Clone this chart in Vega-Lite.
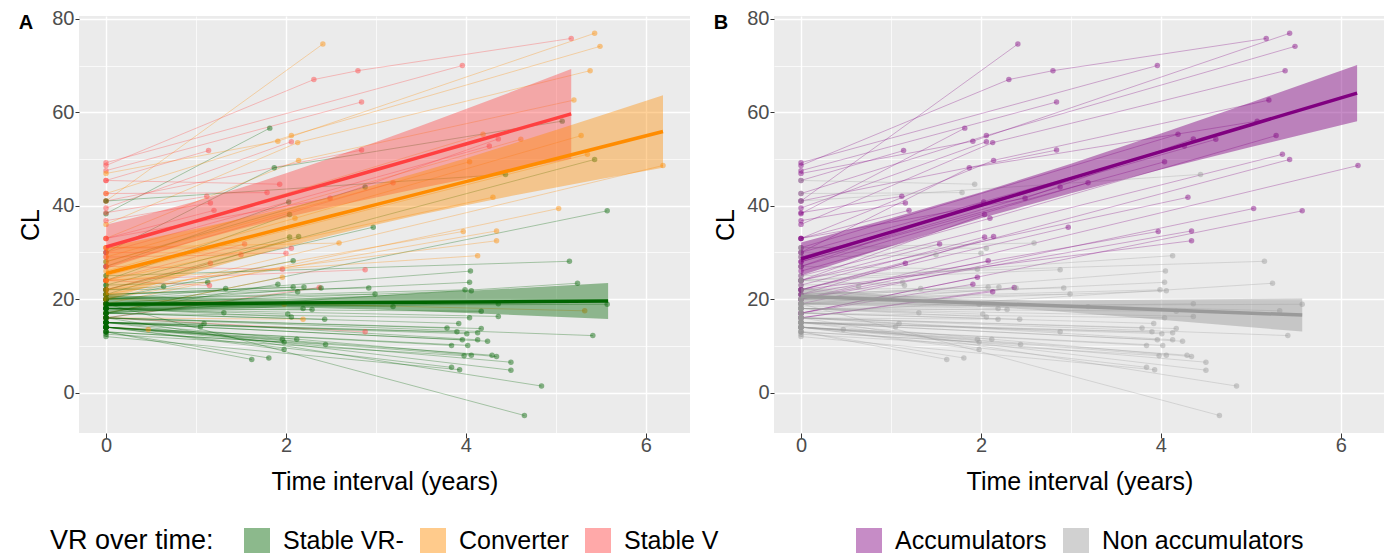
{
"$schema": "https://vega.github.io/schema/vega-lite/v6.json",
"padding": {"left": 18, "top": 8, "right": 0, "bottom": 0},
"bounds": "flush",
"spacing": 84,
"config": {
 "font": "Liberation Sans",
 "view": {"fill": "#EBEBEB", "stroke": null},
 "axis": {"domain": false, "gridColor": "#FFFFFF", "labelFontSize": 20, "labelColor": "#4D4D4D", "titleFontSize": 25, "titleFontWeight": "normal", "titleColor": "#000000", "tickColor": "#333333", "tickSize": 5, "labelPadding": 3},
 "axisY": {"titlePadding": 8, "tickSize": 4, "labelPadding": 1},
 "axisX": {"titlePadding": 14, "labelPadding": -3},
 "legend": {"orient": "bottom", "direction": "horizontal", "layout": {"bottom": {"anchor": "middle"}}, "labelFontSize": 25, "titleFontSize": 27, "titleFontWeight": "normal", "labelColor": "#000000", "titleColor": "#000000", "symbolType": "square", "symbolSize": 676, "symbolOpacity": 0.45, "symbolStrokeWidth": 0, "labelOffset": 13, "columnPadding": 16, "titleOrient": "left", "titlePadding": 30, "offset": 34, "labelLimit": 400},
 "title": {"anchor": "start", "frame": "bounds", "fontSize": 20, "fontWeight": "bold", "color": "#000000", "offset": -24}
},
"datasets": {
 "subj": [
{"id":1,"group":"Converter","accum":"Accumulators","time":0,"CL":41},{"id":1,"group":"Converter","accum":"Accumulators","time":2.41,"CL":74.6},
{"id":2,"group":"Stable V","accum":"Accumulators","time":0,"CL":48.6},{"id":2,"group":"Stable V","accum":"Accumulators","time":2.31,"CL":67},{"id":2,"group":"Stable V","accum":"Accumulators","time":2.8,"CL":68.9},{"id":2,"group":"Stable V","accum":"Accumulators","time":5.17,"CL":75.8},
{"id":3,"group":"Stable V","accum":"Accumulators","time":0,"CL":47.5},{"id":3,"group":"Stable V","accum":"Accumulators","time":2.84,"CL":62.2},
{"id":4,"group":"Stable V","accum":"Accumulators","time":0,"CL":49.2},{"id":4,"group":"Stable V","accum":"Accumulators","time":3.96,"CL":70},
{"id":5,"group":"Stable VR-","accum":"Accumulators","time":0,"CL":38.3},{"id":5,"group":"Stable VR-","accum":"Accumulators","time":1.82,"CL":56.6},
{"id":6,"group":"Converter","accum":"Accumulators","time":0,"CL":46.9},{"id":6,"group":"Converter","accum":"Accumulators","time":1.91,"CL":53.8},{"id":6,"group":"Converter","accum":"Accumulators","time":5.43,"CL":76.9},
{"id":7,"group":"Converter","accum":"Accumulators","time":0,"CL":42.6},{"id":7,"group":"Converter","accum":"Accumulators","time":2.06,"CL":55},{"id":7,"group":"Converter","accum":"Accumulators","time":5.49,"CL":74.1},
{"id":8,"group":"Stable V","accum":"Accumulators","time":0,"CL":39.5},{"id":8,"group":"Stable V","accum":"Accumulators","time":2.06,"CL":53.7},
{"id":9,"group":"Converter","accum":"Accumulators","time":0,"CL":36},{"id":9,"group":"Converter","accum":"Accumulators","time":2.13,"CL":53.5},{"id":9,"group":"Converter","accum":"Accumulators","time":5.38,"CL":68.9},
{"id":10,"group":"Stable V","accum":"Accumulators","time":0,"CL":45.4},{"id":10,"group":"Stable V","accum":"Accumulators","time":1.14,"CL":51.8},
{"id":11,"group":"Stable V","accum":"Accumulators","time":0,"CL":41},{"id":11,"group":"Stable V","accum":"Accumulators","time":2.84,"CL":51.9},
{"id":12,"group":"Converter","accum":"Accumulators","time":0,"CL":33},{"id":12,"group":"Converter","accum":"Accumulators","time":2.14,"CL":49.7},{"id":12,"group":"Converter","accum":"Accumulators","time":5.2,"CL":62.6},
{"id":13,"group":"Stable VR-","accum":"Accumulators","time":0,"CL":30},{"id":13,"group":"Stable VR-","accum":"Accumulators","time":1.87,"CL":48.1},{"id":13,"group":"Stable VR-","accum":"Accumulators","time":5.07,"CL":58.1},
{"id":14,"group":"Stable VR-","accum":"Accumulators","time":0,"CL":28},{"id":14,"group":"Stable VR-","accum":"Accumulators","time":2.88,"CL":44},
{"id":15,"group":"Stable V","accum":"Non accumulators","time":0,"CL":45.4},{"id":15,"group":"Stable V","accum":"Non accumulators","time":1.93,"CL":44.6},
{"id":16,"group":"Stable V","accum":"Non accumulators","time":0,"CL":42.6},{"id":16,"group":"Stable V","accum":"Non accumulators","time":1.79,"CL":42.8},
{"id":17,"group":"Stable V","accum":"Accumulators","time":0,"CL":33},{"id":17,"group":"Stable V","accum":"Accumulators","time":2.49,"CL":41.6},{"id":17,"group":"Stable V","accum":"Accumulators","time":4.36,"CL":54.3},
{"id":18,"group":"Stable V","accum":"Accumulators","time":0,"CL":38.5},{"id":18,"group":"Stable V","accum":"Accumulators","time":1.12,"CL":42},
{"id":19,"group":"Stable V","accum":"Accumulators","time":0,"CL":36.8},{"id":19,"group":"Stable V","accum":"Accumulators","time":1.16,"CL":40.6},
{"id":20,"group":"Stable V","accum":"Accumulators","time":0,"CL":33},{"id":20,"group":"Stable V","accum":"Accumulators","time":1.2,"CL":39},
{"id":21,"group":"Stable VR-","accum":"Accumulators","time":0,"CL":27},{"id":21,"group":"Stable VR-","accum":"Accumulators","time":2.03,"CL":40.8},
{"id":22,"group":"Stable VR-","accum":"Accumulators","time":0,"CL":24},{"id":22,"group":"Stable VR-","accum":"Accumulators","time":2.04,"CL":38.1},
{"id":23,"group":"Converter","accum":"Accumulators","time":0,"CL":26},{"id":23,"group":"Converter","accum":"Accumulators","time":2.1,"CL":37.3},{"id":23,"group":"Converter","accum":"Accumulators","time":5.28,"CL":55},
{"id":24,"group":"Stable VR-","accum":"Accumulators","time":0,"CL":22},{"id":24,"group":"Stable VR-","accum":"Accumulators","time":2.97,"CL":35.4},
{"id":25,"group":"Converter","accum":"Accumulators","time":0,"CL":31},{"id":25,"group":"Converter","accum":"Accumulators","time":4.19,"CL":55.3},
{"id":26,"group":"Converter","accum":"Accumulators","time":0,"CL":29},{"id":26,"group":"Converter","accum":"Accumulators","time":4.61,"CL":54.2},
{"id":27,"group":"Stable V","accum":"Accumulators","time":0,"CL":30},{"id":27,"group":"Stable V","accum":"Accumulators","time":4.26,"CL":52.8},
{"id":28,"group":"Converter","accum":"Accumulators","time":0,"CL":25},{"id":28,"group":"Converter","accum":"Accumulators","time":5.35,"CL":51},
{"id":29,"group":"Stable VR-","accum":"Accumulators","time":0,"CL":22},{"id":29,"group":"Stable VR-","accum":"Accumulators","time":5.43,"CL":49.9},
{"id":30,"group":"Converter","accum":"Accumulators","time":0,"CL":28},{"id":30,"group":"Converter","accum":"Accumulators","time":4.04,"CL":49.4},
{"id":31,"group":"Stable VR-","accum":"Non accumulators","time":0,"CL":41},{"id":31,"group":"Stable VR-","accum":"Non accumulators","time":4.44,"CL":46.7},
{"id":32,"group":"Stable V","accum":"Accumulators","time":0,"CL":27},{"id":32,"group":"Stable V","accum":"Accumulators","time":3.19,"CL":44.9},
{"id":33,"group":"Converter","accum":"Accumulators","time":0,"CL":20},{"id":33,"group":"Converter","accum":"Accumulators","time":6.19,"CL":48.6},
{"id":34,"group":"Converter","accum":"Accumulators","time":0,"CL":24},{"id":34,"group":"Converter","accum":"Accumulators","time":4.3,"CL":41.8},
{"id":35,"group":"Converter","accum":"Accumulators","time":0,"CL":19},{"id":35,"group":"Converter","accum":"Accumulators","time":5.03,"CL":39.4},
{"id":36,"group":"Stable VR-","accum":"Accumulators","time":0,"CL":17},{"id":36,"group":"Stable VR-","accum":"Accumulators","time":5.57,"CL":38.9},
{"id":37,"group":"Stable V","accum":"Accumulators","time":0,"CL":24},{"id":37,"group":"Stable V","accum":"Accumulators","time":1.54,"CL":31.8},
{"id":38,"group":"Converter","accum":"Non accumulators","time":0,"CL":31},{"id":38,"group":"Converter","accum":"Non accumulators","time":2.59,"CL":32},
{"id":39,"group":"Stable V","accum":"Non accumulators","time":0,"CL":29},{"id":39,"group":"Stable V","accum":"Non accumulators","time":1.5,"CL":29.5},
{"id":40,"group":"Stable V","accum":"Accumulators","time":0,"CL":22},{"id":40,"group":"Stable V","accum":"Accumulators","time":1.16,"CL":27.7},
{"id":41,"group":"Stable V","accum":"Non accumulators","time":0,"CL":31},{"id":41,"group":"Stable V","accum":"Non accumulators","time":2.06,"CL":30.9},
{"id":42,"group":"Stable V","accum":"Non accumulators","time":0,"CL":30},{"id":42,"group":"Stable V","accum":"Non accumulators","time":2,"CL":29.8},
{"id":43,"group":"Stable VR-","accum":"Accumulators","time":0,"CL":20},{"id":43,"group":"Stable VR-","accum":"Accumulators","time":2.08,"CL":28.2},
{"id":44,"group":"Stable V","accum":"Non accumulators","time":0,"CL":27},{"id":44,"group":"Stable V","accum":"Non accumulators","time":1.96,"CL":26.4},
{"id":45,"group":"Stable V","accum":"Non accumulators","time":0,"CL":24},{"id":45,"group":"Stable V","accum":"Non accumulators","time":2.88,"CL":26.3},
{"id":46,"group":"Converter","accum":"Accumulators","time":0,"CL":17},{"id":46,"group":"Converter","accum":"Accumulators","time":1.96,"CL":24.7},
{"id":47,"group":"Stable VR-","accum":"Accumulators","time":0,"CL":23},{"id":47,"group":"Stable VR-","accum":"Accumulators","time":2.04,"CL":33.3},
{"id":48,"group":"Stable VR-","accum":"Accumulators","time":0,"CL":21},{"id":48,"group":"Stable VR-","accum":"Accumulators","time":2.14,"CL":33.4},
{"id":49,"group":"Stable VR-","accum":"Non accumulators","time":0,"CL":23},{"id":49,"group":"Stable VR-","accum":"Non accumulators","time":1.13,"CL":23.6},
{"id":50,"group":"Stable V","accum":"Non accumulators","time":0,"CL":24},{"id":50,"group":"Stable V","accum":"Non accumulators","time":1.15,"CL":22.9},
{"id":51,"group":"Stable VR-","accum":"Non accumulators","time":0,"CL":22},{"id":51,"group":"Stable VR-","accum":"Non accumulators","time":1.33,"CL":22.3},
{"id":52,"group":"Stable VR-","accum":"Non accumulators","time":0,"CL":22},{"id":52,"group":"Stable VR-","accum":"Non accumulators","time":0.64,"CL":22.7},
{"id":53,"group":"Stable VR-","accum":"Accumulators","time":0,"CL":17},{"id":53,"group":"Stable VR-","accum":"Accumulators","time":1.91,"CL":23.2},
{"id":54,"group":"Stable VR-","accum":"Non accumulators","time":0,"CL":21},{"id":54,"group":"Stable VR-","accum":"Non accumulators","time":2.08,"CL":22.6},
{"id":55,"group":"Stable VR-","accum":"Non accumulators","time":0,"CL":21},{"id":55,"group":"Stable VR-","accum":"Non accumulators","time":2.2,"CL":22.6},
{"id":56,"group":"Stable V","accum":"Accumulators","time":0,"CL":16},{"id":56,"group":"Stable V","accum":"Accumulators","time":2.37,"CL":22.5},
{"id":57,"group":"Stable VR-","accum":"Non accumulators","time":0,"CL":19},{"id":57,"group":"Stable VR-","accum":"Non accumulators","time":2.39,"CL":22.4},
{"id":58,"group":"Stable VR-","accum":"Non accumulators","time":0,"CL":21},{"id":58,"group":"Stable VR-","accum":"Non accumulators","time":2.92,"CL":22.4},
{"id":59,"group":"Stable VR-","accum":"Non accumulators","time":0,"CL":20},{"id":59,"group":"Stable VR-","accum":"Non accumulators","time":2.99,"CL":21.1},
{"id":60,"group":"Stable VR-","accum":"Accumulators","time":0,"CL":16},{"id":60,"group":"Stable VR-","accum":"Accumulators","time":2.13,"CL":21.6},
{"id":61,"group":"Converter","accum":"Non accumulators","time":0,"CL":19},{"id":61,"group":"Converter","accum":"Non accumulators","time":1.98,"CL":18.9},
{"id":62,"group":"Stable VR-","accum":"Non accumulators","time":0,"CL":18},{"id":62,"group":"Stable VR-","accum":"Non accumulators","time":1.31,"CL":17.1},
{"id":63,"group":"Stable VR-","accum":"Non accumulators","time":0,"CL":18},{"id":63,"group":"Stable VR-","accum":"Non accumulators","time":2.02,"CL":16.8},
{"id":64,"group":"Stable VR-","accum":"Non accumulators","time":0,"CL":18},{"id":64,"group":"Stable VR-","accum":"Non accumulators","time":2.06,"CL":16.2},
{"id":65,"group":"Stable VR-","accum":"Non accumulators","time":0,"CL":19},{"id":65,"group":"Stable VR-","accum":"Non accumulators","time":2.19,"CL":18},
{"id":66,"group":"Stable VR-","accum":"Non accumulators","time":0,"CL":18},{"id":66,"group":"Stable VR-","accum":"Non accumulators","time":2.29,"CL":17.8},
{"id":67,"group":"Converter","accum":"Non accumulators","time":0,"CL":16},{"id":67,"group":"Converter","accum":"Non accumulators","time":2.19,"CL":15.7},
{"id":68,"group":"Stable VR-","accum":"Non accumulators","time":0,"CL":17},{"id":68,"group":"Stable VR-","accum":"Non accumulators","time":2.43,"CL":15.7},
{"id":69,"group":"Stable VR-","accum":"Non accumulators","time":0,"CL":15},{"id":69,"group":"Stable VR-","accum":"Non accumulators","time":1.09,"CL":14.8},
{"id":70,"group":"Stable VR-","accum":"Non accumulators","time":0,"CL":15},{"id":70,"group":"Stable VR-","accum":"Non accumulators","time":1.05,"CL":14.1},
{"id":71,"group":"Converter","accum":"Non accumulators","time":0,"CL":14},{"id":71,"group":"Converter","accum":"Non accumulators","time":0.47,"CL":13.5},
{"id":72,"group":"Stable V","accum":"Non accumulators","time":0,"CL":16},{"id":72,"group":"Stable V","accum":"Non accumulators","time":2.88,"CL":13},
{"id":73,"group":"Stable VR-","accum":"Non accumulators","time":0,"CL":14},{"id":73,"group":"Stable VR-","accum":"Non accumulators","time":1.96,"CL":11.4},
{"id":74,"group":"Stable VR-","accum":"Non accumulators","time":0,"CL":13},{"id":74,"group":"Stable VR-","accum":"Non accumulators","time":1.98,"CL":10.8},
{"id":75,"group":"Stable VR-","accum":"Non accumulators","time":0,"CL":14},{"id":75,"group":"Stable VR-","accum":"Non accumulators","time":2.12,"CL":11.4},
{"id":76,"group":"Stable VR-","accum":"Non accumulators","time":0,"CL":14},{"id":76,"group":"Stable VR-","accum":"Non accumulators","time":1.98,"CL":9.2},
{"id":77,"group":"Stable VR-","accum":"Non accumulators","time":0,"CL":13},{"id":77,"group":"Stable VR-","accum":"Non accumulators","time":2.44,"CL":10.3},
{"id":78,"group":"Stable VR-","accum":"Non accumulators","time":0,"CL":13},{"id":78,"group":"Stable VR-","accum":"Non accumulators","time":1.62,"CL":7.1},
{"id":79,"group":"Stable VR-","accum":"Non accumulators","time":0,"CL":13},{"id":79,"group":"Stable VR-","accum":"Non accumulators","time":1.81,"CL":7.4},
{"id":80,"group":"Converter","accum":"Accumulators","time":0,"CL":21},{"id":80,"group":"Converter","accum":"Accumulators","time":3.97,"CL":34.5},
{"id":81,"group":"Converter","accum":"Accumulators","time":0,"CL":20},{"id":81,"group":"Converter","accum":"Accumulators","time":4.34,"CL":34.6},
{"id":82,"group":"Converter","accum":"Accumulators","time":0,"CL":22},{"id":82,"group":"Converter","accum":"Accumulators","time":4.34,"CL":32.5},
{"id":83,"group":"Converter","accum":"Non accumulators","time":0,"CL":24},{"id":83,"group":"Converter","accum":"Non accumulators","time":4.13,"CL":29.3},
{"id":84,"group":"Stable VR-","accum":"Non accumulators","time":0,"CL":25},{"id":84,"group":"Stable VR-","accum":"Non accumulators","time":5.15,"CL":28.1},
{"id":85,"group":"Stable VR-","accum":"Non accumulators","time":0,"CL":20},{"id":85,"group":"Stable VR-","accum":"Non accumulators","time":4.05,"CL":26},
{"id":86,"group":"Stable VR-","accum":"Non accumulators","time":0,"CL":20},{"id":86,"group":"Stable VR-","accum":"Non accumulators","time":4.04,"CL":23.6},
{"id":87,"group":"Stable VR-","accum":"Non accumulators","time":0,"CL":17},{"id":87,"group":"Stable VR-","accum":"Non accumulators","time":5.24,"CL":23.4},
{"id":88,"group":"Stable VR-","accum":"Non accumulators","time":0,"CL":20},{"id":88,"group":"Stable VR-","accum":"Non accumulators","time":3.99,"CL":22},
{"id":89,"group":"Stable VR-","accum":"Non accumulators","time":0,"CL":19},{"id":89,"group":"Stable VR-","accum":"Non accumulators","time":4.06,"CL":21.8},
{"id":90,"group":"Stable VR-","accum":"Non accumulators","time":0,"CL":19},{"id":90,"group":"Stable VR-","accum":"Non accumulators","time":3.19,"CL":18.4},
{"id":91,"group":"Stable VR-","accum":"Non accumulators","time":0,"CL":18},{"id":91,"group":"Stable VR-","accum":"Non accumulators","time":4.36,"CL":19},
{"id":92,"group":"Stable VR-","accum":"Non accumulators","time":0,"CL":18.5},{"id":92,"group":"Stable VR-","accum":"Non accumulators","time":5.57,"CL":18.9},
{"id":93,"group":"Converter","accum":"Non accumulators","time":0,"CL":20},{"id":93,"group":"Converter","accum":"Non accumulators","time":5.32,"CL":17.5},
{"id":94,"group":"Stable VR-","accum":"Non accumulators","time":0,"CL":18},{"id":94,"group":"Stable VR-","accum":"Non accumulators","time":4.17,"CL":17.4},
{"id":95,"group":"Stable VR-","accum":"Non accumulators","time":0,"CL":17},{"id":95,"group":"Stable VR-","accum":"Non accumulators","time":4.04,"CL":16},
{"id":96,"group":"Stable VR-","accum":"Non accumulators","time":0,"CL":18},{"id":96,"group":"Stable VR-","accum":"Non accumulators","time":4.36,"CL":16.3},
{"id":97,"group":"Stable VR-","accum":"Non accumulators","time":0,"CL":17},{"id":97,"group":"Stable VR-","accum":"Non accumulators","time":3.92,"CL":14.8},
{"id":98,"group":"Stable VR-","accum":"Non accumulators","time":0,"CL":16},{"id":98,"group":"Stable VR-","accum":"Non accumulators","time":3.79,"CL":13.8},
{"id":99,"group":"Stable VR-","accum":"Non accumulators","time":0,"CL":15},{"id":99,"group":"Stable VR-","accum":"Non accumulators","time":3.9,"CL":13},
{"id":100,"group":"Stable VR-","accum":"Non accumulators","time":0,"CL":15},{"id":100,"group":"Stable VR-","accum":"Non accumulators","time":4.01,"CL":12.6},
{"id":101,"group":"Stable VR-","accum":"Non accumulators","time":0,"CL":16},{"id":101,"group":"Stable VR-","accum":"Non accumulators","time":4.17,"CL":13.7},
{"id":102,"group":"Stable VR-","accum":"Non accumulators","time":0,"CL":15},{"id":102,"group":"Stable VR-","accum":"Non accumulators","time":4.13,"CL":12.8},
{"id":103,"group":"Stable VR-","accum":"Non accumulators","time":0,"CL":16},{"id":103,"group":"Stable VR-","accum":"Non accumulators","time":5.41,"CL":12.2},
{"id":104,"group":"Stable VR-","accum":"Non accumulators","time":0,"CL":15},{"id":104,"group":"Stable VR-","accum":"Non accumulators","time":3.96,"CL":11.3},
{"id":105,"group":"Stable VR-","accum":"Non accumulators","time":0,"CL":16},{"id":105,"group":"Stable VR-","accum":"Non accumulators","time":4.13,"CL":11.3},
{"id":106,"group":"Stable VR-","accum":"Non accumulators","time":0,"CL":15},{"id":106,"group":"Stable VR-","accum":"Non accumulators","time":4.24,"CL":11},
{"id":107,"group":"Stable VR-","accum":"Non accumulators","time":0,"CL":14},{"id":107,"group":"Stable VR-","accum":"Non accumulators","time":3.84,"CL":10.1},
{"id":108,"group":"Stable VR-","accum":"Non accumulators","time":0,"CL":14},{"id":108,"group":"Stable VR-","accum":"Non accumulators","time":4.02,"CL":10.1},
{"id":109,"group":"Stable VR-","accum":"Non accumulators","time":0,"CL":12.5},{"id":109,"group":"Stable VR-","accum":"Non accumulators","time":3.98,"CL":7.9},
{"id":110,"group":"Stable VR-","accum":"Non accumulators","time":0,"CL":14},{"id":110,"group":"Stable VR-","accum":"Non accumulators","time":4.06,"CL":8},
{"id":111,"group":"Stable VR-","accum":"Non accumulators","time":0,"CL":14},{"id":111,"group":"Stable VR-","accum":"Non accumulators","time":4.29,"CL":8},
{"id":112,"group":"Stable VR-","accum":"Non accumulators","time":0,"CL":15},{"id":112,"group":"Stable VR-","accum":"Non accumulators","time":4.34,"CL":7.7},
{"id":113,"group":"Stable VR-","accum":"Non accumulators","time":0,"CL":14},{"id":113,"group":"Stable VR-","accum":"Non accumulators","time":4.5,"CL":6.5},
{"id":114,"group":"Stable VR-","accum":"Non accumulators","time":0,"CL":14},{"id":114,"group":"Stable VR-","accum":"Non accumulators","time":3.84,"CL":5.4},
{"id":115,"group":"Stable VR-","accum":"Non accumulators","time":0,"CL":12},{"id":115,"group":"Stable VR-","accum":"Non accumulators","time":3.93,"CL":4.9},
{"id":116,"group":"Stable VR-","accum":"Non accumulators","time":0,"CL":15},{"id":116,"group":"Stable VR-","accum":"Non accumulators","time":4.5,"CL":4.8},
{"id":117,"group":"Stable VR-","accum":"Non accumulators","time":0,"CL":16},{"id":117,"group":"Stable VR-","accum":"Non accumulators","time":4.84,"CL":1.4},
{"id":118,"group":"Stable VR-","accum":"Non accumulators","time":0,"CL":19},{"id":118,"group":"Stable VR-","accum":"Non accumulators","time":4.65,"CL":-4.9}
 ],
 "bandA": [
{"group":"Stable V","time":0,"fit":31.2,"lo":26.48,"hi":35.92},
{"group":"Stable V","time":0.5,"fit":33.95,"lo":29.58,"hi":38.32},
{"group":"Stable V","time":1,"fit":36.7,"lo":32.46,"hi":40.94},
{"group":"Stable V","time":1.5,"fit":39.45,"lo":35.08,"hi":43.82},
{"group":"Stable V","time":2,"fit":42.2,"lo":37.48,"hi":46.92},
{"group":"Stable V","time":2.5,"fit":44.95,"lo":39.7,"hi":50.2},
{"group":"Stable V","time":3,"fit":47.7,"lo":41.78,"hi":53.62},
{"group":"Stable V","time":3.5,"fit":50.45,"lo":43.77,"hi":57.13},
{"group":"Stable V","time":4,"fit":53.2,"lo":45.7,"hi":60.7},
{"group":"Stable V","time":4.5,"fit":55.95,"lo":47.58,"hi":64.32},
{"group":"Stable V","time":5.17,"fit":59.64,"lo":50.05,"hi":69.23},
{"group":"Converter","time":0,"fit":25.5,"lo":19.84,"hi":31.16},
{"group":"Converter","time":0.5,"fit":27.96,"lo":22.84,"hi":33.08},
{"group":"Converter","time":1,"fit":30.41,"lo":25.74,"hi":35.08},
{"group":"Converter","time":1.5,"fit":32.87,"lo":28.53,"hi":37.21},
{"group":"Converter","time":2,"fit":35.32,"lo":31.17,"hi":39.47},
{"group":"Converter","time":2.5,"fit":37.78,"lo":33.64,"hi":41.92},
{"group":"Converter","time":3,"fit":40.23,"lo":35.94,"hi":44.52},
{"group":"Converter","time":3.5,"fit":42.69,"lo":38.1,"hi":47.28},
{"group":"Converter","time":4,"fit":45.14,"lo":40.12,"hi":50.16},
{"group":"Converter","time":4.5,"fit":47.6,"lo":42.05,"hi":53.15},
{"group":"Converter","time":5,"fit":50.05,"lo":43.9,"hi":56.2},
{"group":"Converter","time":5.5,"fit":52.51,"lo":45.71,"hi":59.31},
{"group":"Converter","time":6.19,"fit":55.89,"lo":48.14,"hi":63.64},
{"group":"Stable VR-","time":0,"fit":18.9,"lo":16.9,"hi":20.9},
{"group":"Stable VR-","time":1,"fit":19.03,"lo":17.81,"hi":20.25},
{"group":"Stable VR-","time":2,"fit":19.15,"lo":18.2,"hi":20.1},
{"group":"Stable VR-","time":3,"fit":19.28,"lo":17.78,"hi":20.78},
{"group":"Stable VR-","time":4,"fit":19.4,"lo":17.04,"hi":21.76},
{"group":"Stable VR-","time":4.8,"fit":19.5,"lo":16.41,"hi":22.59},
{"group":"Stable VR-","time":5.58,"fit":19.6,"lo":15.77,"hi":23.43}
 ],
 "bandB": [
{"accum":"Accumulators","time":0,"fit":28.6,"lo":25.06,"hi":32.14},
{"accum":"Accumulators","time":1,"fit":34.35,"lo":31.39,"hi":37.31},
{"accum":"Accumulators","time":2,"fit":40.09,"lo":37.29,"hi":42.89},
{"accum":"Accumulators","time":3,"fit":45.84,"lo":42.69,"hi":48.99},
{"accum":"Accumulators","time":4,"fit":51.58,"lo":47.72,"hi":55.44},
{"accum":"Accumulators","time":5,"fit":57.33,"lo":52.55,"hi":62.11},
{"accum":"Accumulators","time":6.18,"fit":64.1,"lo":58.1,"hi":70.1},
{"accum":"Non accumulators","time":0,"fit":20.6,"lo":18.8,"hi":22.4},
{"accum":"Non accumulators","time":1,"fit":19.88,"lo":18.88,"hi":20.88},
{"accum":"Non accumulators","time":1.8,"fit":19.3,"lo":18.6,"hi":20.0},
{"accum":"Non accumulators","time":2.6,"fit":18.73,"lo":17.73,"hi":19.73},
{"accum":"Non accumulators","time":3.5,"fit":18.08,"lo":16.37,"hi":19.79},
{"accum":"Non accumulators","time":4.5,"fit":17.36,"lo":14.77,"hi":19.95},
{"accum":"Non accumulators","time":5.57,"fit":16.6,"lo":13.05,"hi":20.15}
 ]
},
"hconcat": [
 {
  "width": 611, "height": 417,
  "title": {"text": "A"},
  "encoding": {
   "x": {"field": "time", "type": "quantitative", "title": "Time interval (years)",
    "scale": {"domain": [-0.3, 6.49], "nice": false, "zero": false},
    "axis": {"values": [0,1,2,3,4,5,6], "labelExpr": "datum.value % 2 === 0 ? datum.label : ''",
     "tickOpacity": {"condition": {"test": "datum.value % 2 !== 0", "value": 0}, "value": 1},
     "gridWidth": {"condition": {"test": "datum.value % 2 !== 0", "value": 0.7}, "value": 1.4}}},
   "y": {"field": "CL", "type": "quantitative", "title": "CL", "scale": {"domain": [-8.65, 80.6], "nice": false, "zero": false},
    "axis": {"values": [0,10,20,30,40,50,60,70,80], "labelExpr": "datum.value % 20 === 0 ? datum.label : ''",
     "tickOpacity": {"condition": {"test": "datum.value % 20 !== 0", "value": 0}, "value": 1},
     "gridWidth": {"condition": {"test": "datum.value % 20 !== 0", "value": 0.7}, "value": 1.4}}},
   "color": {"field": "group", "type": "nominal", "scale": {"domain": ["Stable VR-","Converter","Stable V"], "range": ["#006400","#FF8C00","#FF4040"]}, "legend": {"title": "VR over time:"}}
  },
  "layer": [
   {"data": {"name": "subj"}, "mark": {"type": "line", "strokeWidth": 0.9, "opacity": 0.35},
    "encoding": {"detail": {"field": "id", "type": "nominal"}}},
   {"data": {"name": "subj"}, "mark": {"type": "circle", "size": 30, "opacity": 0.45}},
   {"data": {"name": "bandA"}, "mark": {"type": "area", "opacity": 0.4},
    "encoding": {
     "y": {"field": "lo", "type": "quantitative", "title": "CL", "scale": {"domain": [-8.65, 80.6], "nice": false, "zero": false},
      "axis": {"values": [0,10,20,30,40,50,60,70,80], "labelExpr": "datum.value % 20 === 0 ? datum.label : ''",
       "tickOpacity": {"condition": {"test": "datum.value % 20 !== 0", "value": 0}, "value": 1},
       "gridWidth": {"condition": {"test": "datum.value % 20 !== 0", "value": 0.7}, "value": 1.4}}},
     "y2": {"field": "hi"}}},
   {"data": {"name": "bandA"}, "mark": {"type": "line", "strokeWidth": 3.5},
    "encoding": {
     "y": {"field": "fit", "type": "quantitative", "title": "CL", "scale": {"domain": [-8.65, 80.6], "nice": false, "zero": false},
      "axis": {"values": [0,10,20,30,40,50,60,70,80], "labelExpr": "datum.value % 20 === 0 ? datum.label : ''",
       "tickOpacity": {"condition": {"test": "datum.value % 20 !== 0", "value": 0}, "value": 1},
       "gridWidth": {"condition": {"test": "datum.value % 20 !== 0", "value": 0.7}, "value": 1.4}}}}}
  ]
 },
 {
  "width": 611, "height": 417,
  "title": {"text": "B"},
  "encoding": {
   "x": {"field": "time", "type": "quantitative", "title": "Time interval (years)",
    "scale": {"domain": [-0.3, 6.49], "nice": false, "zero": false},
    "axis": {"values": [0,1,2,3,4,5,6], "labelExpr": "datum.value % 2 === 0 ? datum.label : ''",
     "tickOpacity": {"condition": {"test": "datum.value % 2 !== 0", "value": 0}, "value": 1},
     "gridWidth": {"condition": {"test": "datum.value % 2 !== 0", "value": 0.7}, "value": 1.4}}},
   "y": {"field": "CL", "type": "quantitative", "title": "CL", "scale": {"domain": [-8.65, 80.6], "nice": false, "zero": false},
    "axis": {"values": [0,10,20,30,40,50,60,70,80], "labelExpr": "datum.value % 20 === 0 ? datum.label : ''",
     "tickOpacity": {"condition": {"test": "datum.value % 20 !== 0", "value": 0}, "value": 1},
     "gridWidth": {"condition": {"test": "datum.value % 20 !== 0", "value": 0.7}, "value": 1.4}}},
   "color": {"field": "accum", "type": "nominal", "scale": {"domain": ["Accumulators","Non accumulators"], "range": ["#800080","#9A9A9A"]}, "legend": {"title": null}}
  },
  "layer": [
   {"data": {"name": "subj"}, "mark": {"type": "line", "strokeWidth": 0.9, "opacity": 0.35},
    "encoding": {"detail": {"field": "id", "type": "nominal"}}},
   {"data": {"name": "subj"}, "mark": {"type": "circle", "size": 30, "opacity": 0.45}},
   {"data": {"name": "bandB"}, "mark": {"type": "area", "opacity": 0.45},
    "encoding": {
     "y": {"field": "lo", "type": "quantitative", "title": "CL", "scale": {"domain": [-8.65, 80.6], "nice": false, "zero": false},
      "axis": {"values": [0,10,20,30,40,50,60,70,80], "labelExpr": "datum.value % 20 === 0 ? datum.label : ''",
       "tickOpacity": {"condition": {"test": "datum.value % 20 !== 0", "value": 0}, "value": 1},
       "gridWidth": {"condition": {"test": "datum.value % 20 !== 0", "value": 0.7}, "value": 1.4}}},
     "y2": {"field": "hi"}}},
   {"data": {"name": "bandB"}, "mark": {"type": "line", "strokeWidth": 3.5},
    "encoding": {
     "y": {"field": "fit", "type": "quantitative", "title": "CL", "scale": {"domain": [-8.65, 80.6], "nice": false, "zero": false},
      "axis": {"values": [0,10,20,30,40,50,60,70,80], "labelExpr": "datum.value % 20 === 0 ? datum.label : ''",
       "tickOpacity": {"condition": {"test": "datum.value % 20 !== 0", "value": 0}, "value": 1},
       "gridWidth": {"condition": {"test": "datum.value % 20 !== 0", "value": 0.7}, "value": 1.4}}}}}
  ]
 }
],
"resolve": {"scale": {"color": "independent"}, "legend": {"color": "independent"}}
}
